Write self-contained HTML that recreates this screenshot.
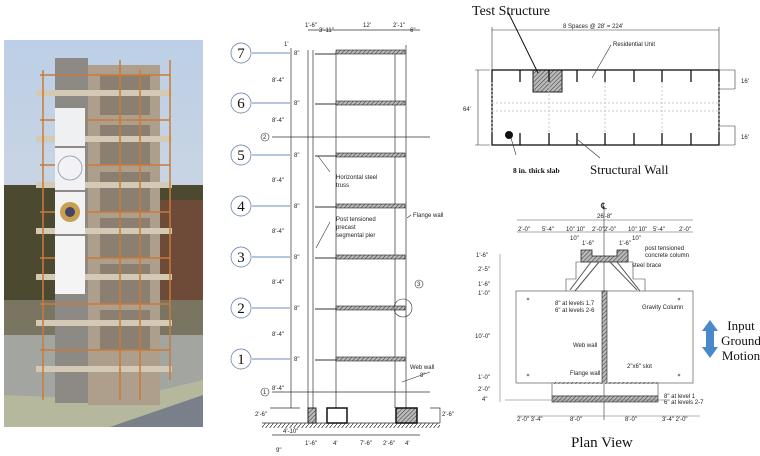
<!DOCTYPE html>
<html><head><meta charset="utf-8"><style>
html,body{margin:0;padding:0;background:#fff;width:760px;height:456px;overflow:hidden}
svg{display:block}
.s{font-family:"Liberation Sans",sans-serif;font-size:6px;fill:#222}
.r{font-family:"Liberation Serif",serif;fill:#111}
</style></head><body>
<svg width="760" height="456" viewBox="0 0 760 456" xmlns="http://www.w3.org/2000/svg">
<defs>
<pattern id="h" width="3" height="3" patternUnits="userSpaceOnUse" patternTransform="rotate(45)"><rect width="3" height="3" fill="#bbb"/><line x1="0" y1="0" x2="0" y2="3" stroke="#444" stroke-width="1.2"/></pattern>
<pattern id="g" width="4" height="5" patternUnits="userSpaceOnUse"><line x1="0" y1="5" x2="4" y2="0" stroke="#444" stroke-width="0.8"/></pattern>
<linearGradient id="sky" x1="0" y1="0" x2="0" y2="1"><stop offset="0" stop-color="#bccfe6"/><stop offset="1" stop-color="#dcdedd"/></linearGradient>
</defs>
<!-- PHOTO -->
<rect x="4" y="40" width="199" height="387" fill="url(#sky)"/>
<rect x="4" y="185" width="199" height="150" fill="#4b4a30"/>
<rect x="150" y="200" width="53" height="130" fill="#6e4a38"/>
<rect x="4" y="300" width="199" height="40" fill="#7a7560"/>
<rect x="4" y="335" width="199" height="92" fill="#a3a6a0"/>
<polygon points="4,395 120,400 203,380 203,427 4,427" fill="#b5b89c"/>
<polygon points="110,427 203,395 203,427" fill="#7a808a"/>
<rect x="88" y="65" width="72" height="340" fill="#ad9f8b"/>
<g fill="#8a7f70"><rect x="100" y="75" width="50" height="40"/><rect x="100" y="125" width="50" height="40"/><rect x="100" y="172" width="50" height="40"/><rect x="100" y="218" width="50" height="40"/><rect x="100" y="264" width="50" height="40"/><rect x="100" y="310" width="50" height="40"/></g>
<rect x="55" y="58" width="33" height="345" fill="#8d8a85"/>
<g fill="#d4c9b5">
<rect x="36" y="90" width="136" height="6"/><rect x="36" y="136" width="136" height="6"/><rect x="36" y="182" width="136" height="6"/>
<rect x="36" y="228" width="136" height="6"/><rect x="36" y="274" width="136" height="6"/><rect x="36" y="320" width="136" height="6"/><rect x="36" y="366" width="136" height="6"/>
</g>
<g stroke="#c97a3a" stroke-width="1.5" fill="none">
<path d="M40 75H170M40 120H170M40 165H170M40 212H170M40 258H170M40 304H170M40 350H170"/>
<path d="M43 70V400M140 70V400M170 60V380M120 60V400"/>
</g>
<rect x="55" y="108" width="30" height="38" fill="#eef0f2"/>
<rect x="55" y="148" width="30" height="42" fill="#f2f2f4"/>
<circle cx="70" cy="168" r="12" fill="none" stroke="#9ab" stroke-width="1"/>
<rect x="55" y="192" width="30" height="42" fill="#f2f2f2"/>
<circle cx="70" cy="212" r="10" fill="#c8a050"/><circle cx="70" cy="212" r="5" fill="#446"/>
<rect x="55" y="236" width="30" height="58" fill="#f4f4f4"/>
<!-- ELEVATION -->
<g stroke="#6a8fc4" stroke-width="1">
<path d="M252 53H290M252 103H290M252 155H290M252 206H290M252 257H290M252 308H290M252 359H290"/>
</g>
<g fill="#fff" stroke="#7a93b5" stroke-width="0.9">
<circle cx="241" cy="53" r="10"/><circle cx="241" cy="103" r="10"/><circle cx="241" cy="155" r="10"/><circle cx="241" cy="206" r="10"/><circle cx="241" cy="257" r="10"/><circle cx="241" cy="308" r="10"/><circle cx="241" cy="359" r="10"/>
</g>
<g class="r" font-size="15" text-anchor="middle">
<text x="241" y="58">7</text><text x="241" y="108">6</text><text x="241" y="160">5</text><text x="241" y="211">4</text><text x="241" y="262">3</text><text x="241" y="313">2</text><text x="241" y="364">1</text>
</g>
<g stroke="#333" stroke-width="0.7" fill="none">
<path d="M291 48V408"/>
<path d="M308 50V408M313 50V408M395 50V408M406 45V408"/>
<path d="M336 52V408"/>
<path d="M272 137H430M272 392H430"/>
<path d="M308 30H420M270 408H300M430 408H440V423"/>
<path d="M262 423H440"/>
<path d="M272 435H420"/>
</g>
<g fill="url(#h)" stroke="#222" stroke-width="0.6">
<rect x="336" y="50" width="69" height="4"/><rect x="336" y="101" width="69" height="4"/><rect x="336" y="153" width="69" height="4"/><rect x="336" y="204" width="69" height="4"/><rect x="336" y="255" width="69" height="4"/><rect x="336" y="306" width="69" height="4"/><rect x="336" y="357" width="69" height="4"/>
</g>
<g stroke="#333" stroke-width="1"><path d="M315 54H336M315 104H336M315 156H336M315 207H336M315 258H336M315 309H336M315 360H336"/></g>
<rect x="262" y="423" width="178" height="5" fill="url(#g)"/>
<rect x="308" y="408" width="8" height="15" fill="url(#h)" stroke="#222"/>
<rect x="327" y="408" width="20" height="15" fill="#fff" stroke="#111" stroke-width="1.5"/>
<rect x="396" y="408" width="21" height="15" fill="url(#h)" stroke="#111" stroke-width="1.5"/>
<circle cx="265" cy="137" r="4" fill="#fff" stroke="#333" stroke-width="0.6"/><text class="s" x="263" y="139">2</text>
<circle cx="265" cy="392" r="4" fill="#fff" stroke="#333" stroke-width="0.6"/><text class="s" x="263" y="394">1</text>
<circle cx="403" cy="308" r="9" fill="none" stroke="#333" stroke-width="0.6"/>
<circle cx="419" cy="284" r="4" fill="#fff" stroke="#333" stroke-width="0.6"/><text class="s" x="417" y="286">3</text>
<g class="s">
<text x="272" y="82">8'-4"</text><text x="272" y="122">8'-4"</text><text x="272" y="182">8'-4"</text><text x="272" y="233">8'-4"</text><text x="272" y="284">8'-4"</text><text x="272" y="336">8'-4"</text><text x="272" y="390">8'-4"</text>
<text x="294" y="55">8"</text><text x="294" y="105">8"</text><text x="294" y="157">8"</text><text x="294" y="208">8"</text><text x="294" y="259">8"</text><text x="294" y="310">8"</text><text x="294" y="361">8"</text>
<text x="284" y="46">1'</text>
<text x="305" y="27">1'-6"</text><text x="319" y="32">3'-11"</text><text x="363" y="27">12'</text><text x="393" y="27">2'-1"</text><text x="410" y="32">6"</text>
<text x="336" y="179">Horizontal steel</text><text x="336" y="187">truss</text>
<text x="336" y="221">Post tensioned</text><text x="336" y="229">precast</text><text x="336" y="237">segmental pier</text>
<text x="413" y="217">Flange wall</text>
<text x="410" y="369">Web wall</text><text x="420" y="377">8"</text>
<text x="255" y="416">2'-6"</text><text x="442" y="416">2'-6"</text>
<text x="283" y="433">4'-10"</text><text x="305" y="445">1'-6"</text><text x="333" y="445">4'</text><text x="360" y="445">7'-6"</text><text x="383" y="445">2'-6"</text><text x="405" y="445">4'</text><text x="276" y="452">9"</text>
</g>
<path d="M330 172L318 156M330 222L316 248M411 215L407 218M430 372L402 382" stroke="#333" stroke-width="0.6"/>
<!-- TOP PLAN -->
<g class="r" font-size="14"><text x="472" y="15">Test Structure</text></g>
<text class="s" x="563" y="28" font-size="7">8 Spaces @ 28' = 224'</text>
<path d="M492 30H719M492 27V70M719 27V70" stroke="#333" stroke-width="0.6"/>
<rect x="533" y="70" width="29" height="22" fill="url(#h)" stroke="#222"/>
<rect x="492" y="70" width="227" height="75" fill="none" stroke="#111" stroke-width="1.3"/>
<g stroke="#111" stroke-width="1.3"><path d="M520 70V82M549 70V82M577 70V82M605 70V82M634 70V82M662 70V82M691 70V82M520 133V145M549 133V145M577 133V145M605 133V145M634 133V145M662 133V145M691 133V145"/></g>
<g stroke="#bbb" stroke-width="0.8" stroke-dasharray="2,2"><path d="M492 103H719M492 111H719M492 82V133M719 82V133M549 82V133M605 82V133M662 82V133"/></g>
<text class="s" x="613" y="46">Residential Unit</text>
<path d="M611 45L592 78" stroke="#333" stroke-width="0.6"/>
<path d="M508 12L538 73" stroke="#111" stroke-width="1"/>
<path d="M475 70H490M475 145H490M478 70V145M720 70H735M720 89H735M720 126H735M720 145H735M735 70V89M735 126V145" stroke="#333" stroke-width="0.6"/>
<text class="s" x="463" y="111">64'</text><text class="s" x="741" y="83">16'</text><text class="s" x="741" y="139">16'</text>
<circle cx="509" cy="135" r="4" fill="#111"/>
<path d="M511 138L516 155M578 140L600 158" stroke="#333" stroke-width="0.6"/>
<text class="r" x="513" y="173" font-size="7.5" font-weight="bold">8 in. thick slab</text>
<text class="r" x="590" y="174" font-size="13">Structural Wall</text>
<!-- PLAN VIEW -->
<text class="r" x="601" y="209" font-size="9">℄</text>
<path d="M604 206V420" stroke="#333" stroke-width="0.6"/>
<path d="M517 220H693M517 232H693" stroke="#555" stroke-width="0.6"/>
<g class="s" font-size="5"><text x="597" y="218">26'-8"</text><text x="518" y="231">2'-0"</text><text x="542" y="231">5'-4"</text><text x="566" y="231">10" 10"</text><text x="592" y="231">2'-0"2'-0"</text><text x="628" y="231">10" 10"</text><text x="653" y="231">5'-4"</text><text x="679" y="231">2'-0"</text><text x="570" y="240">10"</text><text x="582" y="245">1'-6"</text><text x="619" y="245">1'-6"</text><text x="632" y="240">10"</text></g>
<path d="M581 250H592V256H617V250H628V262H581Z" fill="url(#h)" stroke="#222" stroke-width="0.8"/>
<path d="M566 291V279H576V262H633V279H645V291" fill="none" stroke="#444" stroke-width="0.6"/>
<path d="M591 262L570 290M599 262L575 291M617 262L640 291M610 262L637 290" stroke="#555" stroke-width="1"/>
<rect x="516" y="291" width="177" height="92" fill="none" stroke="#444" stroke-width="0.6"/>
<rect x="552" y="383" width="106" height="13" fill="none" stroke="#444" stroke-width="0.6"/>
<rect x="602" y="291" width="5" height="92" fill="url(#h)" stroke="#222" stroke-width="0.6"/>
<rect x="552" y="382" width="106" height="2" fill="url(#h)"/>
<rect x="552" y="396" width="106" height="6" fill="url(#h)" stroke="#222" stroke-width="0.6"/>
<path d="M500 254V402M505 400H665M517 416H700" stroke="#666" stroke-width="0.5"/>
<g class="s" font-size="5"><text x="476" y="257">1'-6"</text><text x="478" y="271">2'-5"</text><text x="478" y="286">1'-6"</text><text x="478" y="295">1'-0"</text><text x="475" y="338">10'-0"</text><text x="478" y="379">1'-0"</text><text x="478" y="391">2'-0"</text><text x="482" y="401">4"</text>
<text x="645" y="250">post tensioned</text><text x="645" y="257">concrete column</text><text x="632" y="267">steel brace</text>
<text x="555" y="305">8" at levels 1,7</text><text x="555" y="312">6" at levels 2-6</text><text x="642" y="309">Gravity Column</text>
<text x="573" y="347">Web wall</text><text x="570" y="375">Flange wall</text><text x="627" y="368">2"x6" slot</text>
<text x="664" y="398">8" at level 1</text><text x="664" y="404">6" at levels 2-7</text>
<text x="517" y="421">2'-0" 3'-4"</text><text x="570" y="421">8'-0"</text><text x="625" y="421">8'-0"</text><text x="662" y="421">3'-4"  2'-0"</text></g>
<g fill="#888"><circle cx="528" cy="299" r="1.3"/><circle cx="679" cy="299" r="1.3"/><circle cx="528" cy="375" r="1.3"/><circle cx="679" cy="375" r="1.3"/></g>
<polygon points="710,320 718,331 714,331 714,347 718,347 710,358 702,347 706,347 706,331 702,331" fill="#4a88cc"/>
<g class="r" font-size="13" text-anchor="middle"><text x="741" y="330">Input</text><text x="741" y="345">Ground</text><text x="741" y="360">Motion</text></g>
<text class="r" x="571" y="447" font-size="15">Plan View</text>
</svg>
</body></html>
